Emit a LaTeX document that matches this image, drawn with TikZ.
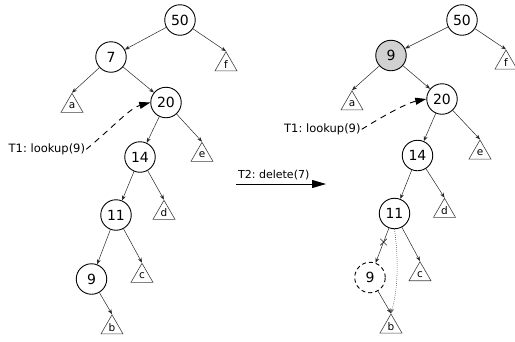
\documentclass[tikz,border=0pt]{standalone}
\usepackage{fontspec}
\setmainfont{DejaVu Sans}
\usetikzlibrary{arrows.meta,shapes.geometric,shapes.misc}
\frenchspacing
\begin{document}
\begin{tikzpicture}[x=1pt,y=-1pt,
  circ/.style={circle,draw,line width=0.9pt,minimum size=30.5pt,inner sep=0pt,font=\fontsize{14}{14}\selectfont},
  tri/.style={regular polygon,regular polygon sides=3,draw=black!75,line width=0.6pt,minimum size=25.4pt,inner sep=0pt,font=\fontsize{10.5}{10.5}\selectfont},
  edge/.style={draw=black!85,line width=0.5pt,-{Stealth[length=5pt,width=3.8pt]}},
  dotedge/.style={draw=black!60,line width=0.6pt,dash pattern=on 0.8pt off 1.2pt,-{Stealth[length=5pt,width=3.8pt]}},
  dasharrow/.style={line width=0.9pt,dash pattern=on 6pt off 5pt,-{Triangle[length=11pt,width=7pt]}},
  bigarrow/.style={line width=1pt,-{Triangle[length=14pt,width=8pt]}},
  lbl/.style={inner sep=1pt,font=\fontsize{11.5}{11.5}\selectfont},
  cross/.style={cross out,draw=black!85,line width=0.6pt,minimum size=6pt,inner sep=0pt}
]
\useasboundingbox (0,0) rectangle (515,341);

% ---------- left tree ----------
\node[circ] (n50) at (180,20) {50};
\node[circ] (n7) at (111,57) {7};
\node[tri] (f) at (226,64.5) {\raisebox{-1pt}{f}};
\node[tri] (a) at (72,106) {\raisebox{-1pt}{a}};
\node[circ] (n20) at (166,102.5) {20};
\node[circ] (n14) at (140,157) {14};
\node[tri] (e) at (202,155) {\raisebox{-1pt}{e}};
\node[circ] (n11) at (116,215) {11};
\node[tri] (d) at (164,213) {\raisebox{-1pt}{d}};
\node[circ] (n9) at (91.5,279) {9};
\node[tri] (c) at (142,276) {\raisebox{-1pt}{c}};
\node[tri] (b) at (112,327.5) {\raisebox{-1pt}{b}};

\draw[edge] (n50) -- (n7);
\draw[edge] (n50) -- (f.corner 1);
\draw[edge] (n7) -- (a.corner 1);
\draw[edge] (n7) -- (n20);
\draw[edge] (n20) -- (n14);
\draw[edge] (n20) -- (e.corner 1);
\draw[edge] (n14) -- (n11);
\draw[edge] (n14) -- (d.corner 1);
\draw[edge] (n11) -- (n9);
\draw[edge] (n11) -- (c.corner 1);
\draw[edge] (n9) -- (b.corner 1);

\node[lbl,anchor=base west] (t1l) at (7.5,152.5) {T1: lookup(9)};
\draw[dasharrow] (t1l.east) .. controls (112,128) and (130,108) .. (n20.west);

% ---------- middle arrow ----------
\coordinate (mA) at (236,184);
\coordinate (mB) at (326,184);
\draw[bigarrow] (mA) -- (mB);
\node[inner sep=0pt,anchor=base west,font=\fontsize{11}{11}\selectfont] (t2) at (238,178.5) {T2: delete(7)};

% ---------- right tree ----------
\node[circ] (r50) at (462,20) {50};
\node[circ,fill=black!18] (r9) at (391,55.5) {9};
\node[tri] (rf) at (506,62.7) {\raisebox{-1pt}{f}};
\node[tri] (ra) at (352,103.5) {\raisebox{-1pt}{a}};
\node[circ] (r20) at (442,99) {20};
\node[circ] (r14) at (417.5,155.5) {14};
\node[tri] (re) at (480,152.7) {\raisebox{-1pt}{e}};
\node[circ] (r11) at (394.5,213.5) {11};
\node[tri] (rd) at (444.5,211) {\raisebox{-1pt}{d}};
\node[circ,dash pattern=on 4pt off 3pt] (r9d) at (370,277.5) {9};
\node[tri] (rc) at (420,274.4) {\raisebox{-1pt}{c}};
\node[tri] (rb) at (391,326.7) {\raisebox{-1pt}{b}};

\draw[edge] (r50) -- (r9);
\draw[edge] (r50) -- (rf.corner 1);
\draw[edge] (r9) -- (ra.corner 1);
\draw[edge] (r9) -- (r20);
\draw[edge] (r20) -- (r14);
\draw[edge] (r20) -- (re.corner 1);
\draw[edge] (r14) -- (r11);
\draw[edge] (r14) -- (rd.corner 1);
\draw[edge] (r11) -- node[cross,pos=0.4] (x1) {} (r9d);
\draw[edge] (r11) -- (rc.corner 1);
\draw[edge] (r9d) -- (rb.corner 1);
\draw[dotedge] (r11.south) .. controls (398,255) and (399,285) .. (rb.corner 1);

\node[lbl,anchor=base west] (t1r) at (283,132.5) {T1: lookup(9)};
\draw[dasharrow] (t1r.east) .. controls (383,116) and (407,103) .. (r20.west);
\end{tikzpicture}
\end{document}
